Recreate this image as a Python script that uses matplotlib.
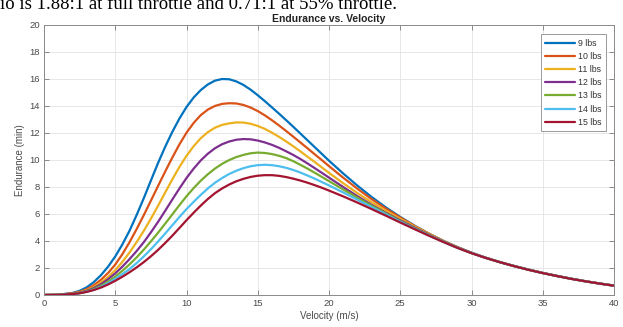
import matplotlib
matplotlib.use("Agg")
import matplotlib.pyplot as plt

plt.rcParams['font.family'] = ['Liberation Sans', 'DejaVu Sans']

velocity = [0, 1, 2, 2.5, 3, 3.5, 4, 4.5, 5, 5.5, 6, 6.5, 7, 7.5, 8, 8.5, 9, 9.5,
            10, 10.5, 11, 11.5, 12, 12.5, 13, 13.5, 14, 14.5, 15, 15.5, 16, 16.5,
            17, 17.5, 18, 18.5, 19, 19.5, 20, 21, 22, 23, 24, 25, 26, 27, 28, 29,
            30, 31, 32, 33, 34, 35, 36, 37, 38, 39, 40]

e_9 = [0, 0.02, 0.15, 0.31, 0.57, 0.96, 1.47, 2.10, 2.85, 3.74, 4.75, 5.91, 7.15, 8.46,
       9.75, 10.95, 12.05, 13.04, 13.9, 14.6, 15.15, 15.57, 15.85, 15.97, 15.95, 15.79,
       15.53, 15.18, 14.77, 14.33, 13.87, 13.4, 12.92, 12.43, 11.93, 11.43, 10.93, 10.43,
       9.93, 8.98, 8.08, 7.24, 6.47, 5.77, 5.13, 4.55, 4.02, 3.55, 3.13, 2.76, 2.43,
       2.14, 1.88, 1.63, 1.41, 1.21, 1.02, 0.85, 0.69]
e_10 = [0, 0.02, 0.13, 0.24, 0.43, 0.73, 1.13, 1.63, 2.25, 3.02, 3.9, 4.87, 5.9, 6.97,
        8.05, 9.12, 10.15, 11.13, 12.0, 12.72, 13.3, 13.71, 13.98, 14.13, 14.18, 14.16,
        14.05, 13.86, 13.6, 13.28, 12.92, 12.53, 12.12, 11.7, 11.27, 10.84, 10.4, 9.97,
        9.53, 8.67, 7.85, 7.08, 6.38, 5.73, 5.11, 4.54, 4.01, 3.54, 3.12, 2.75, 2.43,
        2.14, 1.88, 1.63, 1.41, 1.2, 1.02, 0.85, 0.69]
e_11 = [0, 0.01, 0.1, 0.2, 0.36, 0.6, 0.92, 1.33, 1.84, 2.45, 3.14, 3.91, 4.74, 5.64,
        6.59, 7.57, 8.54, 9.46, 10.29, 11.0, 11.59, 12.04, 12.37, 12.58, 12.69, 12.76,
        12.75, 12.66, 12.5, 12.28, 12.0, 11.69, 11.35, 10.99, 10.61, 10.22, 9.83, 9.43,
        9.03, 8.26, 7.53, 6.85, 6.22, 5.63, 5.07, 4.53, 4.0, 3.53, 3.11, 2.75, 2.43,
        2.14, 1.87, 1.63, 1.41, 1.2, 1.01, 0.85, 0.69]
e_12 = [0, 0.01, 0.09, 0.17, 0.31, 0.52, 0.8, 1.17, 1.6, 2.1, 2.65, 3.25, 3.9, 4.63,
        5.4, 6.22, 7.05, 7.87, 8.65, 9.34, 9.95, 10.45, 10.85, 11.15, 11.35, 11.48,
        11.53, 11.51, 11.42, 11.28, 11.1, 10.88, 10.62, 10.35, 10.05, 9.72, 9.38, 9.03,
        8.68, 7.98, 7.3, 6.66, 6.07, 5.52, 4.99, 4.47, 3.97, 3.51, 3.11, 2.75, 2.43,
        2.14, 1.87, 1.63, 1.41, 1.2, 1.01, 0.85, 0.69]
e_13 = [0, 0.01, 0.07, 0.14, 0.26, 0.44, 0.68, 0.99, 1.36, 1.79, 2.26, 2.78, 3.35, 3.96,
        4.6, 5.27, 5.95, 6.64, 7.3, 7.9, 8.45, 8.93, 9.35, 9.7, 9.98, 10.2,
        10.36, 10.48, 10.53, 10.5, 10.42, 10.29, 10.12, 9.89, 9.62, 9.34, 9.04, 8.73,
        8.42, 7.8, 7.19, 6.6, 6.02, 5.46, 4.93, 4.43, 3.95, 3.5, 3.1, 2.74, 2.42,
        2.13, 1.87, 1.62, 1.4, 1.2, 1.01, 0.84, 0.69]
e_14 = [0, 0.01, 0.06, 0.13, 0.24, 0.39, 0.6, 0.88, 1.2, 1.54, 1.92, 2.36, 2.85, 3.38,
        3.95, 4.54, 5.15, 5.76, 6.35, 6.89, 7.4, 7.88, 8.3, 8.65, 8.95, 9.19,
        9.38, 9.52, 9.6, 9.63, 9.6, 9.52, 9.4, 9.24, 9.05, 8.83, 8.6, 8.35,
        8.1, 7.58, 7.04, 6.5, 5.96, 5.42, 4.9, 4.41, 3.94, 3.49, 3.1, 2.74, 2.42,
        2.13, 1.87, 1.62, 1.4, 1.2, 1.01, 0.84, 0.69]
e_15 = [0, 0.01, 0.07, 0.13, 0.23, 0.37, 0.55, 0.78, 1.05, 1.35, 1.68, 2.04, 2.43, 2.86,
        3.33, 3.84, 4.38, 4.95, 5.53, 6.08, 6.61, 7.1, 7.53, 7.88, 8.17, 8.41,
        8.59, 8.73, 8.82, 8.86, 8.86, 8.81, 8.72, 8.6, 8.46, 8.3, 8.12, 7.93,
        7.72, 7.29, 6.83, 6.35, 5.86, 5.36, 4.87, 4.39, 3.93, 3.49, 3.09, 2.74, 2.42,
        2.13, 1.86, 1.62, 1.4, 1.19, 1.01, 0.84, 0.69]

series = [e_9, e_10, e_11, e_12, e_13, e_14, e_15]
labels = ['9 lbs', '10 lbs', '11 lbs', '12 lbs', '13 lbs', '14 lbs', '15 lbs']
colors = ['#0072BD', '#D95319', '#EDB120', '#7E2F8E', '#77AC30', '#4DBEEE', '#A2142F']

x_ticks = [0, 5, 10, 15, 20, 25, 30, 35, 40]
y_ticks = [0, 2, 4, 6, 8, 10, 12, 14, 16, 18, 20]

fig = plt.figure(figsize=(6.23, 3.27), dpi=100)
fig.patch.set_facecolor('white')
ax = fig.add_axes([44 / 623, 1 - 295 / 327, 570 / 623, 270.5 / 327])

for vals, lab, col in zip(series, labels, colors):
    ax.plot(velocity, vals, color=col, lw=1.6, label=lab,
            solid_capstyle='round', solid_joinstyle='round')

ax.set_xlim(0, 40)
ax.set_ylim(0, 20)
ax.set_xticks(x_ticks)
ax.set_yticks(y_ticks)
ax.grid(True, color='#e3e3e3', lw=0.6)
ax.set_axisbelow(True)
ax.tick_params(direction='in', top=True, right=True, length=3.5, width=0.6,
               colors='#7a7a7a', labelcolor='#4a4a4a', labelsize=6.8, pad=3)
for s in ax.spines.values():
    s.set_color('#8a8a8a')
    s.set_linewidth(0.7)

ax.set_xlabel('Velocity (m/s)', fontsize=7, color='#4a4a4a', labelpad=2)
ax.set_ylabel('Endurance (min)', fontsize=7, color='#4a4a4a', labelpad=3)
ax.set_title('Endurance vs. Velocity', fontsize=7.5, fontweight='bold', color='#222222', pad=2)

leg = ax.legend(loc='upper right', fontsize=6.3, handlelength=3.4, labelspacing=0.48,
                fancybox=False, framealpha=1, edgecolor='#8a8a8a', borderpad=0.5,
                handletextpad=0.4, bbox_to_anchor=(0.994, 0.98))
leg.get_frame().set_linewidth(0.6)
for t in leg.get_texts():
    t.set_color('#333333')

fig.text(0.0, 1 - 9 / 327, 'io is 1.88:1 at full throttle and 0.71:1 at 55% throttle.',
         family=['Liberation Serif', 'DejaVu Serif'], fontsize=13.5, color='black',
         ha='left', va='baseline')

fig.savefig('out.png', dpi=100)
